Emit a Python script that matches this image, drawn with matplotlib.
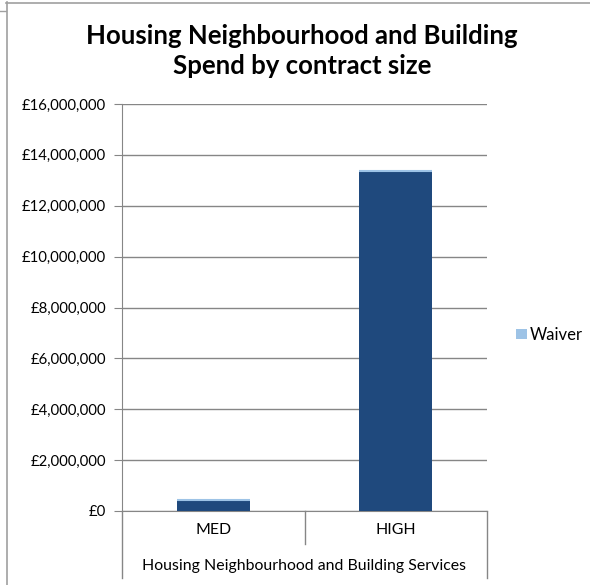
import matplotlib.pyplot as plt
from matplotlib.lines import Line2D
from matplotlib.patches import Patch
from matplotlib.ticker import FuncFormatter

# values
categories = ['MED', 'HIGH']
group_label = 'Housing Neighbourhood and Building Services'
waiver = [420000, 13350000]
series_name = 'Waiver'
title = 'Housing Neighbourhood and Building\nSpend by contract size'
y_ticks = [0, 2000000, 4000000, 6000000, 8000000, 10000000, 12000000, 14000000, 16000000]

plt.rcParams['font.family'] = ['Lato', 'DejaVu Sans']

W, H = 590, 585
fig = plt.figure(figsize=(W / 100, H / 100), dpi=100)

# plot area in pixels: left 122, right 487, top 104, bottom 511
ax = fig.add_axes([122 / W, (H - 511) / H, (487 - 122) / W, (511 - 104) / H])

x = list(range(len(categories)))
bw = 0.4
ax.bar(x, waiver, width=bw, color='#1F497D', zorder=3)
# light top edge of the bars
ax.hlines(waiver, [i - bw / 2 for i in x], [i + bw / 2 for i in x],
          color='#9DC3E6', lw=1.5, zorder=4)

ax.set_xlim(-0.5, len(categories) - 0.5)
ax.set_ylim(0, 16000000)
ax.set_yticks(y_ticks)
ax.yaxis.set_major_formatter(FuncFormatter(lambda v, p: '£{:,.0f}'.format(v)))
ax.grid(axis='y', color='#868686', lw=1, zorder=0)
ax.tick_params(axis='y', length=6, color='#868686', labelsize=10.7, pad=5.5, labelcolor='#000000')
ax.set_xticks([])

for s in ['top', 'right']:
    ax.spines[s].set_visible(False)
ax.spines['left'].set_color('#868686')
ax.spines['bottom'].set_color('#868686')

# multi-level category axis
tr = ax.get_xaxis_transform()
for i, c in enumerate(categories):
    ax.text(i, -0.047, c, transform=tr, ha='center', va='center', fontsize=11.4)
ax.text((len(categories) - 1) / 2, -0.135, group_label, transform=tr,
        ha='center', va='center', fontsize=11.4)
long_y = -67 / 407
short_y = -33 / 407
for xv, yb in [(-0.5, long_y), (0.5, short_y), (len(categories) - 0.5, long_y)]:
    ax.plot([xv, xv], [0, yb], transform=tr, color='#868686', lw=1, clip_on=False)

fig.text(302 / W, 1 - 51 / H, title, ha='center', va='center',
         fontsize=18.5, fontweight='bold', linespacing=1.3)

fig.legend(handles=[Patch(facecolor='#9DC3E6', label=series_name)],
           loc='center left', bbox_to_anchor=(516 / W, 1 - 335 / H),
           frameon=False, fontsize=12, handlelength=0.65, handleheight=0.55,
           handletextpad=0.2, borderpad=0, borderaxespad=0)

# chart border (cropped at right and bottom)
border = '#A0A0A0'
fig.add_artist(Line2D([6 / W, 1], [1 - 2.5 / H, 1 - 2.5 / H], color=border, lw=1.2))
fig.add_artist(Line2D([6.5 / W, 6.5 / W], [0, 1 - 2 / H], color=border, lw=1.2))
fig.add_artist(Line2D([0, 6 / W], [1 - 11 / H, 1 - 11 / H], color=border, lw=1))

fig.savefig('out.png', dpi=100)
